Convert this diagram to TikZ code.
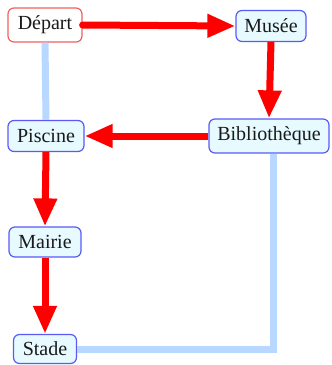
\documentclass[tikz,border=0pt]{standalone}
\usepackage{fontspec}
\setmainfont{Liberation Serif}
\usetikzlibrary{arrows.meta}
\definecolor{boxblue}{HTML}{5A5AF5}
\definecolor{boxfill}{HTML}{E6FAFF}
\definecolor{boxred}{HTML}{F06060}
\definecolor{pathblue}{HTML}{B8D8FF}
\definecolor{txt}{HTML}{1A1A1A}
\tikzset{
  place/.style={draw=boxblue, fill=boxfill, rounded corners=6pt, line width=1.2pt,
    text=txt, font=\fontsize{20}{20}\selectfont, inner sep=0pt, minimum height=31pt},
  startplace/.style={place, draw=boxred, fill=white},
  route/.style={draw=red, line width=7pt, -{Triangle[width=22pt,length=28pt]}},
  other/.style={draw=pathblue, line width=7pt}
}
\begin{document}
\begin{tikzpicture}[x=1pt,y=-1pt]
\useasboundingbox (0,0) rectangle (332,365);
\node[startplace, minimum width=74pt, minimum height=34pt] (dep) at (45,25) {Départ};
\node[place, minimum width=70pt] (mus) at (271,26) {Musée};
\node[place, minimum width=76pt] (pis) at (46,136) {Piscine};
\node[place, minimum width=120pt, minimum height=34pt] (bib) at (269,136) {Bibliothèque};
\node[place, minimum width=72pt, minimum height=30pt] (mai) at (45,242) {Mairie};
\node[place, minimum width=63pt, minimum height=29pt] (sta) at (45,349) {Stade};
\draw[other] (dep.south) -- (pis.north);
\draw[other] ([xshift=4pt]bib.south) |- (sta.east);
\draw[route, line cap=round] (dep.east) -- (mus.west);
\draw[route] (mus.south) -- (bib.north);
\draw[route] (bib.west) -- (pis.east);
\draw[route] (pis.south) -- (mai.north);
\draw[route] (mai.south) -- (sta.north);
\end{tikzpicture}
\end{document}
